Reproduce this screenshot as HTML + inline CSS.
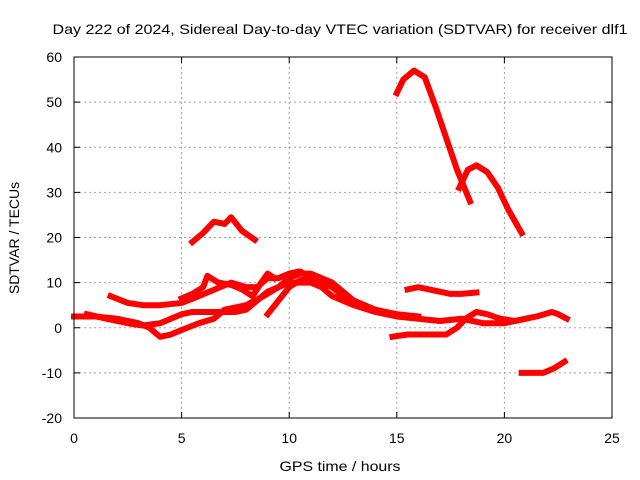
<!DOCTYPE html>
<html><head><meta charset="utf-8"><style>
body{margin:0;background:#fff}
svg{display:block;font-family:"Liberation Sans",sans-serif}
</style></head><body>
<svg id="chart" width="640" height="480">
<rect width="640" height="480" fill="#fff"/>
<text x="340" y="34" text-anchor="middle" font-size="14" textLength="575" lengthAdjust="spacingAndGlyphs">Day 222 of 2024, Sidereal Day-to-day VTEC variation (SDTVAR) for receiver dlf1</text>
<text x="340" y="471" text-anchor="middle" font-size="14" textLength="121" lengthAdjust="spacingAndGlyphs">GPS time / hours</text>
<text transform="translate(19,238) rotate(-90)" text-anchor="middle" font-size="14">SDTVAR / TECUs</text>
<g id="grid"></g><g id="ticks"></g><g id="series"></g>
<rect x="74" y="57" width="538" height="361" fill="none" stroke="#000" stroke-width="1"/>
</svg>
<script>
const xTicks=[0,5,10,15,20,25];
const yTicks=[-20,-10,0,10,20,30,40,50,60];
const track1=[[15,52],[15.3,55],[15.8,57],[16.3,55.5],[16.8,49],[17.3,42],[17.8,35],[18.4,28]];
const track2=[[17.9,31],[18.3,35],[18.7,36],[19.2,34.5],[19.7,31],[20.2,26],[20.8,21]];
const track3=[[5.5,19],[6,21],[6.5,23.5],[7,23],[7.3,24.5],[7.8,21.5],[8.4,19.5]];
const track4=[[15.5,8.5],[16,9],[16.5,8.5],[17,8],[17.5,7.5],[18,7.5],[18.7,7.8]];
const track5=[[20.8,-10],[21.3,-10],[21.8,-10],[22.3,-9],[22.8,-7.5]];
const track6=[[14.8,-2],[15.5,-1.5],[16.5,-1.5],[17.3,-1.5],[17.8,0],[18.2,2],[18.7,3.5],[19.2,3],[19.8,2],[20.5,1.5],[21,2],[21.5,2.5],[22.2,3.5],[22.5,3],[22.9,2]];
const track7=[[0,2.5],[1,2.5],[2,2],[3,1],[3.5,0],[4,-2],[4.5,-1.5],[5,-0.5],[5.8,1],[6.5,2],[7,4],[8,5],[8.8,7],[9.5,9],[10,10],[10.5,10],[11,10],[11.5,9],[12,7],[13,5],[14,3.5],[15,2.5],[16,2],[17,1.5],[18,2],[19,1],[20,1],[21,2]];
const track8=[[1.7,7],[2.5,5.5],[3.2,5],[4,5],[5,5.5],[5.8,7],[6.3,8],[6.8,9],[7.3,10],[8,9],[8.5,9],[9,11],[9.5,11],[10,12],[10.5,12.5],[11,11],[11.5,10],[12,9],[12.5,7],[13,6]];
const track9=[[0.6,3],[1.5,2],[2.5,1],[3.2,0.5],[4,1],[5,3],[5.5,3.5],[6.5,3.5],[7.5,3.5],[8,4],[8.5,6],[9,8],[9.5,9],[10,11],[10.5,12],[11,12],[11.5,11],[12,10],[12.5,8],[13,6],[14,4],[15,3],[16,2.5]];
const track10=[[5,6.5],[5.5,7.5],[6,9],[6.2,11.5],[6.7,10],[7.3,9.5],[7.8,8.5],[8.3,7],[8.7,10],[9,12],[9.3,11]];
const track11=[[9,3],[9.5,6],[10,9],[10.5,10.5],[11,11]];
const tracks=[track1,track2,track3,track4,track5,track6,track7,track8,track9,track10,track11];
const X=h=>74+h*538/25;
const Y=v=>418-(v+20)*361/80;
const NS="http://www.w3.org/2000/svg";
const grid=document.getElementById('grid'),ticks=document.getElementById('ticks'),series=document.getElementById('series');
function mk(tag,attrs,parent){const e=document.createElementNS(NS,tag);for(const k in attrs)e.setAttribute(k,attrs[k]);parent.appendChild(e);return e;}
xTicks.forEach(t=>{const x=X(t);
 if(t>0&&t<25){const g=mk('line',{x1:x,x2:x,y1:57,y2:418,stroke:'#a0a0a0','stroke-dasharray':'2,3'},grid);
 
 }
 mk('line',{x1:x,x2:x,y1:418,y2:412,stroke:'#000'},ticks);mk('line',{x1:x,x2:x,y1:57,y2:63,stroke:'#000'},ticks);
 const l=mk('text',{x:x,y:443,'text-anchor':'middle','font-size':14},ticks);l.textContent=t;
 
 });
yTicks.forEach(t=>{const y=Y(t);
 if(t>-20&&t<60){const g=mk('line',{x1:74,x2:612,y1:y,y2:y,stroke:'#a0a0a0','stroke-dasharray':'2,3'},grid);
 
 }
 mk('line',{x1:74,x2:80,y1:y,y2:y,stroke:'#000'},ticks);mk('line',{x1:612,x2:606,y1:y,y2:y,stroke:'#000'},ticks);
 const l=mk('text',{x:62,y:y+5,'text-anchor':'end','font-size':14},ticks);l.textContent=t;
 
 });
tracks.forEach((tr,i)=>{const p=mk('polyline',{points:tr.map(d=>X(d[0])+','+Y(d[1])).join(' '),fill:'none',stroke:'#ff0000','stroke-width':6,'stroke-linejoin':'round','stroke-linecap':'square'},series);
 
 });
</script>
</body></html>
